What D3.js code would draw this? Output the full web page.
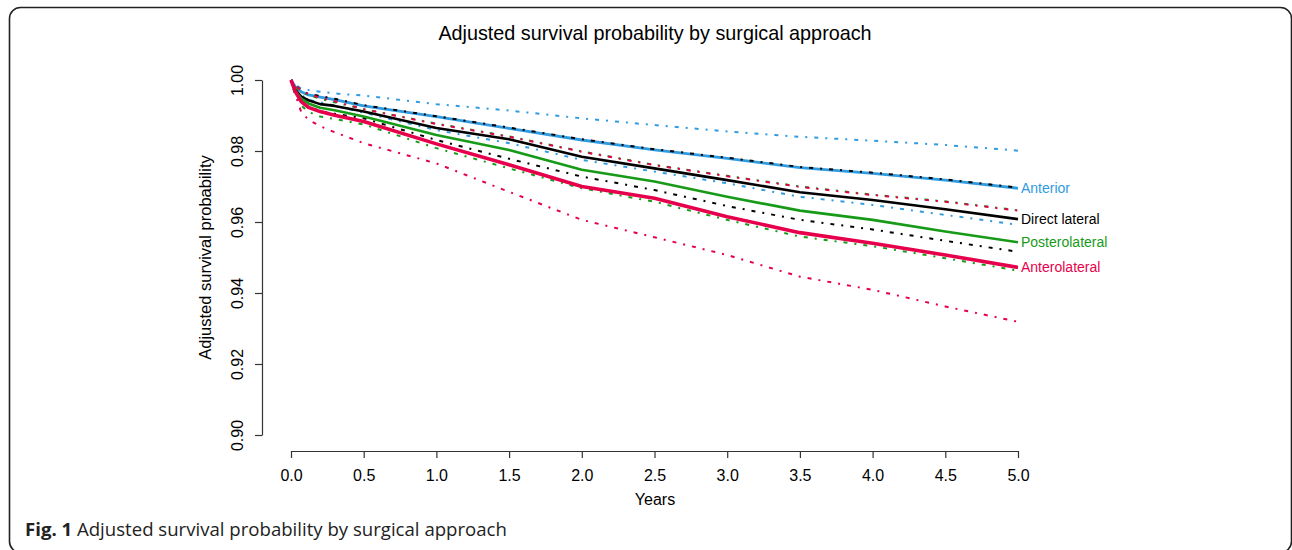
<!DOCTYPE html>
<html>
<head>
<meta charset="utf-8">
<script src="https://cdn.jsdelivr.net/npm/d3@7"></script>
<style>
  html, body { margin: 0; padding: 0; background: #fff; }
  svg { display: block; }
</style>
</head>
<body>
<svg id="chart" width="1292" height="550"></svg>
<script>
// ---- data ----
const times = [0, 0.03, 0.07, 0.12, 0.2, 0.3, 0.5, 1.0, 1.5, 2.0, 2.5, 3.0, 3.5, 4.0, 4.5, 5.0];

const groups = ["Anterior", "Direct lateral", "Posterolateral", "Anterolateral"];
const groupColors = ["#2f9be0", "#000000", "#179a17", "#e6004c"];

const anteriorEst   = [1, 0.9981, 0.9967, 0.9958, 0.9952, 0.9945, 0.9927, 0.9897, 0.9864, 0.9831, 0.9803, 0.9779, 0.9753, 0.9737, 0.9718, 0.9695];
const anteriorUpper = [1, 0.9986, 0.9976, 0.9972, 0.9967, 0.9962, 0.9956, 0.9932, 0.9914, 0.9892, 0.9873, 0.9855, 0.9840, 0.9829, 0.9817, 0.9801];
const anteriorLower = [1, 0.9976, 0.9958, 0.9944, 0.9937, 0.9928, 0.9908, 0.9859, 0.9822, 0.9775, 0.9742, 0.9709, 0.9671, 0.9648, 0.9620, 0.9592];

const directEst   = [1, 0.9972, 0.9953, 0.9943, 0.9932, 0.9927, 0.9911, 0.9865, 0.9833, 0.9784, 0.9751, 0.9718, 0.9684, 0.9662, 0.9636, 0.9608];
const directUpper = [1, 0.9985, 0.9970, 0.9961, 0.9955, 0.9947, 0.9929, 0.9898, 0.9866, 0.9833, 0.9805, 0.9781, 0.9755, 0.9739, 0.9720, 0.9697];
const directLower = [1, 0.9958, 0.9937, 0.9925, 0.9912, 0.9905, 0.9892, 0.9831, 0.9778, 0.9728, 0.9690, 0.9645, 0.9606, 0.9579, 0.9547, 0.9516];

const posteroEst   = [1, 0.9969, 0.9948, 0.9934, 0.9922, 0.9915, 0.9897, 0.9845, 0.9803, 0.9747, 0.9714, 0.9671, 0.9632, 0.9606, 0.9573, 0.9543];
const posteroUpper = [1, 0.9982, 0.9966, 0.9958, 0.9947, 0.9937, 0.9918, 0.9877, 0.9841, 0.9799, 0.9761, 0.9730, 0.9700, 0.9677, 0.9658, 0.9633];
const posteroLower = [1, 0.9955, 0.9928, 0.9910, 0.9897, 0.9890, 0.9875, 0.9808, 0.9751, 0.9695, 0.9657, 0.9606, 0.9559, 0.9532, 0.9498, 0.9463];

const anteroEst   = [1, 0.9967, 0.9939, 0.9923, 0.9911, 0.9901, 0.9883, 0.9820, 0.9761, 0.9700, 0.9667, 0.9615, 0.9570, 0.9540, 0.9507, 0.9472];
const anteroUpper = [1, 0.9986, 0.9970, 0.9960, 0.9950, 0.9940, 0.9918, 0.9876, 0.9840, 0.9798, 0.9760, 0.9729, 0.9699, 0.9676, 0.9657, 0.9632];
const anteroLower = [1, 0.9960, 0.9910, 0.9888, 0.9870, 0.9853, 0.9822, 0.9765, 0.9685, 0.9606, 0.9557, 0.9507, 0.9446, 0.9409, 0.9362, 0.9319];

const xTicks = [0, 0.5, 1, 1.5, 2, 2.5, 3, 3.5, 4, 4.5, 5];
const yTicks = [0.90, 0.92, 0.94, 0.96, 0.98, 1.00];

const titleText = "Adjusted survival probability by surgical approach";
const xLabel = "Years";
const yLabel = "Adjusted survival probability";

// ---- build ----
const series = [
  { name: groups[0], color: groupColors[0], est: anteriorEst, upper: anteriorUpper, lower: anteriorLower, w: 2.8 },
  { name: groups[1], color: groupColors[1], est: directEst,   upper: directUpper,   lower: directLower,   w: 2.6 },
  { name: groups[2], color: groupColors[2], est: posteroEst,  upper: posteroUpper,  lower: posteroLower,  w: 2.6 },
  { name: groups[3], color: groupColors[3], est: anteroEst,   upper: anteroUpper,   lower: anteroLower,   w: 3.6 }
];

const svg = d3.select("#chart");
const font = "'Liberation Sans', Arial, sans-serif";

const x = d3.scaleLinear().domain([0, 5]).range([291, 1018]);
const y = d3.scaleLinear().domain([0.90, 1.00]).range([435, 80]);

// frame
svg.append("rect")
  .attr("x", 9.5).attr("y", 7.5)
  .attr("width", 1282).attr("height", 545)
  .attr("rx", 11).attr("ry", 11)
  .attr("fill", "none").attr("stroke", "#222").attr("stroke-width", 1.6);

// title
svg.append("text")
  .attr("x", 655).attr("y", 40)
  .attr("text-anchor", "middle")
  .attr("font-family", font).attr("font-size", 19.8)
  .attr("fill", "#000")
  .text(titleText);

// x axis
const xAxis = d3.axisBottom(x).tickValues(xTicks).tickFormat(d3.format(".1f")).tickSize(7).tickSizeOuter(0);
const gx = svg.append("g").attr("transform", "translate(0,451)").call(xAxis);
gx.select(".domain").attr("stroke", "#333").attr("stroke-width", 1.2);
gx.selectAll(".tick line").attr("stroke", "#333").attr("stroke-width", 1.2);
gx.selectAll(".tick text")
  .attr("font-family", font).attr("font-size", 16).attr("fill", "#000")
  .attr("y", 30).attr("dy", 0);

// y axis
const yAxis = d3.axisLeft(y).tickValues(yTicks).tickFormat(d3.format(".2f")).tickSize(7).tickSizeOuter(0);
const gy = svg.append("g").attr("transform", "translate(262,0)").call(yAxis);
gy.select(".domain").attr("stroke", "#333").attr("stroke-width", 1.2);
gy.selectAll(".tick line").attr("stroke", "#333").attr("stroke-width", 1.2);
gy.selectAll(".tick text")
  .attr("font-family", font).attr("font-size", 16).attr("fill", "#000")
  .attr("x", null).attr("dy", null)
  .attr("text-anchor", "middle")
  .attr("transform", "translate(-19,0) rotate(-90)");

// axis titles
svg.append("text")
  .attr("x", 655).attr("y", 505)
  .attr("text-anchor", "middle")
  .attr("font-family", font).attr("font-size", 16)
  .text(xLabel);

svg.append("text")
  .attr("transform", "translate(211,257.5) rotate(-90)")
  .attr("text-anchor", "middle")
  .attr("font-family", font).attr("font-size", 16.5)
  .text(yLabel);

// curves
const line = d3.line().x(d => x(d[0])).y(d => y(d[1]));
const plot = svg.append("g");
series.forEach(s => {
  const est = times.map((t, i) => [t, s.est[i]]);
  const up = times.map((t, i) => [t, s.upper[i]]);
  const lo = times.map((t, i) => [t, s.lower[i]]);
  plot.append("path").attr("d", line(est))
    .attr("fill", "none").attr("stroke", s.color).attr("stroke-width", s.w)
    .attr("stroke-linejoin", "round");
  [up, lo].forEach(pts => {
    plot.append("path").attr("d", line(pts))
      .attr("fill", "none").attr("stroke", s.color).attr("stroke-width", 2)
      .attr("stroke-dasharray", "2,7,4,7");
  });
});

// end labels
series.forEach(s => {
  svg.append("text")
    .attr("x", 1021)
    .attr("y", y(s.est[s.est.length - 1]))
    .attr("dy", "0.35em")
    .attr("font-family", font).attr("font-size", 14)
    .attr("fill", s.color)
    .text(s.name);
});

// caption
const cap = svg.append("text")
  .attr("x", 25).attr("y", 536)
  .attr("font-family", "'Open Sans', sans-serif").attr("font-size", 18.6)
  .attr("fill", "#222");
cap.append("tspan").attr("font-weight", "bold").text("Fig. 1");
cap.append("tspan").text(" Adjusted survival probability by surgical approach");
</script>
</body>
</html>
